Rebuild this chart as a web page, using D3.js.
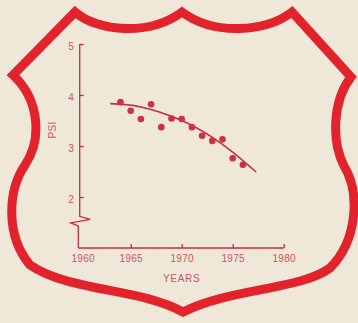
<!DOCTYPE html>
<html>
<head>
<meta charset="utf-8">
<script src="https://cdn.jsdelivr.net/npm/d3@7"></script>
<style>
  html, body { margin: 0; padding: 0; background: #efe7d8; }
  svg { display: block; }
  text { font-family: "Liberation Sans", Arial, sans-serif; }
</style>
</head>
<body>
<svg id="chart" width="358" height="323"></svg>
<script>
// Pavement serviceability index (PSI) by year
const years = [1964, 1965, 1966, 1967, 1968, 1969, 1970, 1971, 1972, 1973, 1974, 1975, 1976];
const psi   = [3.86, 3.69, 3.53, 3.82, 3.37, 3.54, 3.53, 3.37, 3.20, 3.10, 3.13, 2.76, 2.63];

// Fitted trend curve
const trendYears = [1963, 1966, 1970, 1973, 1975, 1977.3];
const trendPsi   = [3.83, 3.765, 3.50, 3.17, 2.88, 2.49];

const xTicks = [1960, 1965, 1970, 1975, 1980];
const yTicks = [2, 3, 4, 5];
const xTitle = "YEARS";
const yTitle = "PSI";

const red = "#e2232c";
const ink = "#c62c42";
const textInk = "#c65866";

const svg = d3.select("#chart");

// Shield-shaped frame
const shield = d3.path();
shield.moveTo(75, 12);
shield.bezierCurveTo(98, 32, 150, 36, 182, 12);
shield.bezierCurveTo(214, 36, 266, 32, 292, 12);
shield.lineTo(351, 77);
shield.bezierCurveTo(333, 100, 331, 140, 344, 166);
shield.bezierCurveTo(360, 192, 358, 240, 330, 268);
shield.bezierCurveTo(300, 290, 230, 288, 183, 312);
shield.bezierCurveTo(140, 288, 70, 292, 30, 265);
shield.bezierCurveTo(5, 235, 8, 190, 25, 165);
shield.bezierCurveTo(42, 140, 40, 100, 13, 75);
shield.closePath();

svg.append("path")
  .attr("d", shield.toString())
  .attr("fill", "#efe7d8")
  .attr("stroke", red)
  .attr("stroke-width", 9)
  .attr("stroke-linejoin", "miter")
  .attr("stroke-miterlimit", 10);

const x = d3.scaleLinear().domain([1960, 1980]).range([79.7, 283.7]);
const y = d3.scaleLinear().domain([1, 5]).range([248, 44]);

// X axis
const gx = svg.append("g")
  .attr("transform", `translate(0,${y(1)})`)
  .call(d3.axisBottom(x).tickValues(xTicks).tickFormat(d3.format("d"))
    .tickSize(-4).tickSizeOuter(0).tickPadding(7));
gx.select(".domain").remove();
gx.selectAll(".tick line").attr("stroke", ink).attr("stroke-width", 1.3)
  .filter(d => d === 1960).remove();
gx.selectAll(".tick text").attr("fill", textInk).attr("font-size", 10)
  .attr("letter-spacing", 0.3).attr("dy", "0.71em")
  .attr("dx", d => d === 1960 ? 3 : 0);

svg.append("line")
  .attr("x1", x(1960) - 1.4).attr("x2", x(1980))
  .attr("y1", y(1)).attr("y2", y(1))
  .attr("stroke", ink).attr("stroke-width", 1.3);

// Y axis with a scale break near the bottom
const gy = svg.append("g")
  .attr("transform", `translate(${x(1960)},0)`)
  .call(d3.axisLeft(y).tickValues(yTicks).tickFormat(d3.format("d"))
    .tickSize(-4).tickSizeOuter(0).tickPadding(6));
gy.select(".domain").remove();
gy.selectAll(".tick line").attr("stroke", ink).attr("stroke-width", 1.3);
gy.selectAll(".tick text").attr("fill", textInk).attr("font-size", 10)
  .attr("dy", "0.55em");

const x0 = x(1960), yb = y(1.62);
const breakPath = d3.path();
breakPath.moveTo(x0, y(5));
breakPath.lineTo(x0, yb);
breakPath.lineTo(x0 + 10.5, yb + 3);
breakPath.lineTo(x0 - 9, yb + 6.5);
breakPath.lineTo(x0 - 1.4, yb + 9.5);
breakPath.lineTo(x0 - 1.4, y(1));
svg.append("path")
  .attr("d", breakPath.toString())
  .attr("fill", "none")
  .attr("stroke", ink)
  .attr("stroke-width", 1.3)
  .attr("stroke-linejoin", "miter");

// Axis titles
svg.append("text")
  .attr("x", x(1970)).attr("y", 282)
  .attr("text-anchor", "middle")
  .attr("font-size", 10).attr("letter-spacing", 0.7)
  .attr("fill", textInk)
  .text(xTitle);

svg.append("text")
  .attr("transform", `translate(56.3,130) rotate(-90)`)
  .attr("text-anchor", "middle")
  .attr("font-size", 10).attr("letter-spacing", 0.3)
  .attr("fill", textInk)
  .text(yTitle);

// Trend curve
const trend = trendYears.map((t, i) => [t, trendPsi[i]]);
svg.append("path")
  .datum(trend)
  .attr("d", d3.line().x(d => x(d[0])).y(d => y(d[1])).curve(d3.curveNatural))
  .attr("fill", "none")
  .attr("stroke", ink)
  .attr("stroke-width", 1.6);

// Observations
svg.append("g").selectAll("circle")
  .data(years.map((t, i) => [t, psi[i]]))
  .join("circle")
  .attr("cx", d => x(d[0]))
  .attr("cy", d => y(d[1]))
  .attr("r", 3.3)
  .attr("fill", "#cc3242");
</script>
</body>
</html>
